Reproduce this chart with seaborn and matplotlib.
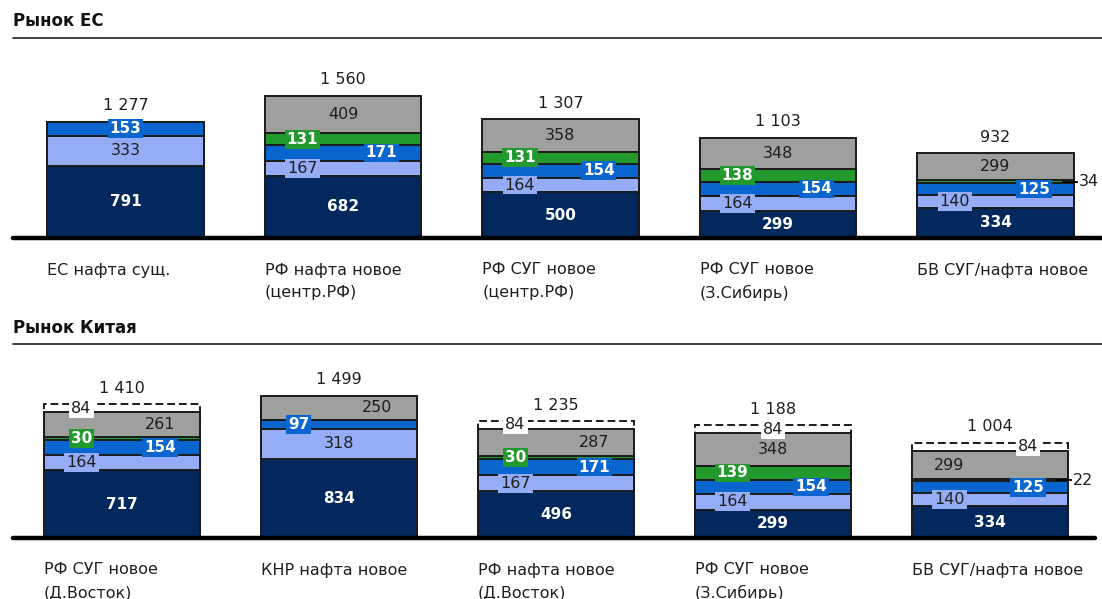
import numpy as np
import matplotlib
matplotlib.use("Agg")
import matplotlib.pyplot as plt
import seaborn as sns
from matplotlib.lines import Line2D

sns.set_theme(style="white")
plt.rcParams['font.family'] = ['DejaVu Sans']

# ---------------- data ----------------
eu_title = "Рынок ЕС"
cn_title = "Рынок Китая"

eu_categories = ["ЕС нафта сущ.", "РФ нафта новое\n(центр.РФ)", "РФ СУГ новое\n(центр.РФ)",
                 "РФ СУГ новое\n(З.Сибирь)", "БВ СУГ/нафта новое"]
cn_categories = ["РФ СУГ новое\n(Д.Восток)", "КНР нафта новое", "РФ нафта новое\n(Д.Восток)",
                 "РФ СУГ новое\n(З.Сибирь)", "БВ СУГ/нафта новое"]

# cost components, bottom to top
eu_base = [791, 682, 500, 299, 334]
eu_light = [333, 167, 164, 164, 140]
eu_blue = [153, 171, 154, 154, 125]
eu_green = [0, 131, 131, 138, 34]
eu_gray = [0, 409, 358, 348, 299]
eu_freight = [0, 0, 0, 0, 0]

cn_base = [717, 834, 496, 299, 334]
cn_light = [164, 318, 167, 164, 140]
cn_blue = [154, 97, 171, 154, 125]
cn_green = [30, 0, 30, 139, 22]
cn_gray = [261, 250, 287, 348, 299]
cn_freight = [84, 0, 84, 84, 84]

# label placement inside each bar: c=centre, l=left, r=right, o=outside with leader
eu_place = [
    ["c", "c", "c", "c", "c"],
    ["c", "l", "l", "l", "l"],
    ["c", "r", "r", "r", "r"],
    ["-", "l", "l", "l", "o"],
    ["-", "c", "c", "c", "c"],
    ["-", "-", "-", "-", "-"],
]
cn_place = [
    ["c", "c", "c", "c", "c"],
    ["l", "c", "l", "l", "l"],
    ["r", "l", "r", "r", "r"],
    ["l", "-", "l", "l", "o"],
    ["r", "r", "r", "c", "l"],
    ["l", "-", "l", "c", "r"],
]

# ---------------- styling ----------------
NAVY = "#03285E"
LIGHT = "#94ADF6"
BLUE = "#0A66CE"
GREEN = "#21992C"
GRAY = "#9DA09C"
EDGE = "#1b1b1b"
DARK = "#1e1e1e"

seg_styles = [
    dict(fill=NAVY, txt="white", bold=True, box=None),
    dict(fill=LIGHT, txt=DARK, bold=False, box=LIGHT),
    dict(fill=BLUE, txt="white", bold=True, box=BLUE),
    dict(fill=GREEN, txt="white", bold=True, box=GREEN),
    dict(fill=GRAY, txt=DARK, bold=False, box=None),
    dict(fill="white", txt=DARK, bold=False, box="white", dashed=True),
]

W = 0.718
FIG_W, FIG_H = 1102, 599


def fmt(v):
    return f"{v:,}".replace(",", " ")


def draw_panel(ax, cats, segs, place):
    segs = np.array(segs)
    cum = np.cumsum(segs, axis=0)
    n = len(cats)
    # stacked look: cumulative bars from the top layer down
    for k in reversed(range(len(segs))):
        if not segs[k].any():
            continue
        st = seg_styles[k]
        sns.barplot(x=cats, y=cum[k], order=cats, ax=ax, width=W, color=st["fill"],
                    saturation=1, edgecolor=EDGE, linewidth=1.4,
                    linestyle=(0, (4, 2)) if st.get("dashed") else "-",
                    errorbar=None)
    offs = {"c": 0.0, "l": -0.26 * W, "r": 0.245 * W}
    for k in range(len(segs)):
        st = seg_styles[k]
        for i in range(n):
            v = segs[k][i]
            p = place[k][i]
            if v == 0 or p == "-":
                continue
            yc = cum[k][i] - v / 2
            if p == "o":
                xr = i + W / 2
                ax.plot([xr - 0.055, xr + 0.02], [yc, yc], color="black", lw=1.3,
                        clip_on=False, solid_capstyle="butt")
                ax.text(xr + 0.025, yc, str(v), ha="left", va="center",
                        color=DARK, fontsize=11.5)
                continue
            bbox = None
            if st["box"] is not None:
                bbox = dict(boxstyle="square,pad=0.12", fc=st["box"], ec="none")
            ax.text(i + offs[p], yc, str(v), ha="center", va="center",
                    color=st["txt"], fontsize=11 if st["bold"] else 11.5,
                    fontweight="bold" if st["bold"] else "normal", bbox=bbox, zorder=5)
    totals = segs.sum(axis=0)
    for i in range(n):
        ax.annotate(fmt(int(totals[i])), xy=(i, totals[i]), xytext=(0, 16),
                    textcoords="offset pixels", ha="center", va="center",
                    fontsize=11.5, color=DARK)
        lines = cats[i].split("\n")
        for j, line in enumerate(lines):
            ax.annotate(line, xy=(i - W / 2, 0), xytext=(0, -32 - 23 * j),
                        textcoords="offset pixels", ha="left", va="center",
                        fontsize=11.5, color=DARK, annotation_clip=False)
    ax.axhline(0, color="black", lw=3.2, clip_on=False, zorder=6)
    ax.set_axis_off()


fig = plt.figure(figsize=(FIG_W / 100, FIG_H / 100), dpi=100)
fig.patch.set_facecolor("white")

# top panel: baseline at y=238 px, 142 px for the 1 560 bar
ax1 = fig.add_axes([13 / FIG_W, 1 - 238 / FIG_H, 1089 / FIG_W, 178 / FIG_H])
draw_panel(ax1, eu_categories,
           [eu_base, eu_light, eu_blue, eu_green, eu_gray, eu_freight], eu_place)
ax1.set_xlim((13 - 125.5) / 217.5, (1102 - 125.5) / 217.5)
ax1.set_ylim(0, 178 * 1560 / 142)

# bottom panel: baseline at y=538 px
ax2 = fig.add_axes([13 / FIG_W, 1 - 538 / FIG_H, 1082 / FIG_W, 178 / FIG_H])
draw_panel(ax2, cn_categories,
           [cn_base, cn_light, cn_blue, cn_green, cn_gray, cn_freight], cn_place)
ax2.set_xlim((13 - 122) / 217, (1095 - 122) / 217)
ax2.set_ylim(0, 178 * 1499 / 142)

# section headers with rules
for title, ty, ly in [(eu_title, 21, 38), (cn_title, 328, 344)]:
    fig.text(13 / FIG_W, 1 - ty / FIG_H, title, ha="left", va="center",
             fontsize=12, fontweight="bold", color="#111111")
    fig.add_artist(Line2D([13 / FIG_W, 1.0], [1 - ly / FIG_H] * 2,
                          transform=fig.transFigure, color="#333333", lw=1.3))

fig.savefig("out.png", dpi=100, facecolor="white")
